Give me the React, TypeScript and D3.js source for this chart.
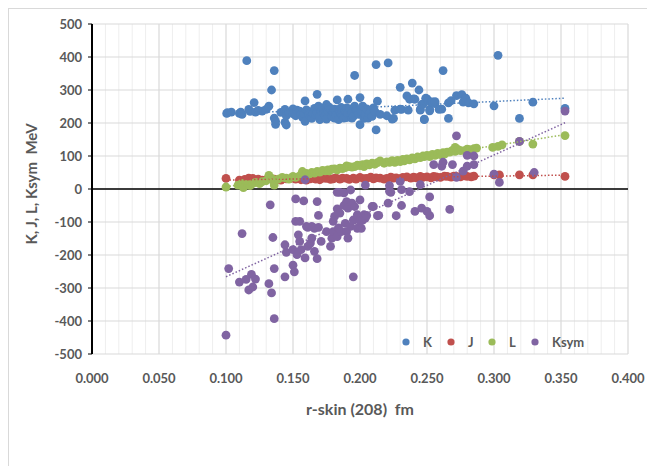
import React from "react";
import * as d3 from "d3";

type Pt = [number, number];

const kData: Pt[] = [
  [0.1005, 229], [0.101, 231], [0.104, 233], [0.110, 229], [0.111, 233], [0.112, 226], [0.1155, 389],
  [0.117, 241], [0.118, 235], [0.121, 262], [0.122, 233], [0.124, 238], [0.127, 236], [0.130, 241],
  [0.132, 251], [0.134, 300], [0.136, 359], [0.136, 215], [0.137, 205], [0.137, 196], [0.141, 232],
  [0.144, 241], [0.144, 202], [0.145, 222], [0.145, 194], [0.147, 232], [0.150, 243], [0.150, 228],
  [0.152, 222], [0.153, 239], [0.155, 236], [0.156, 226], [0.157, 218], [0.158, 230], [0.159, 267],
  [0.159, 205], [0.160, 240], [0.161, 236], [0.162, 226], [0.163, 218], [0.164, 214], [0.165, 229],
  [0.166, 244], [0.167, 225], [0.168, 287], [0.168, 232], [0.169, 251], [0.170, 210], [0.170, 221],
  [0.171, 236], [0.172, 245], [0.173, 229], [0.174, 222], [0.175, 256], [0.175, 212], [0.176, 236],
  [0.177, 248], [0.178, 241], [0.179, 226], [0.179, 219], [0.180, 232], [0.181, 215], [0.181, 242],
  [0.182, 224], [0.183, 270], [0.184, 241], [0.184, 210], [0.185, 233], [0.186, 229], [0.186, 247],
  [0.187, 222], [0.188, 215], [0.189, 238], [0.190, 246], [0.190, 216], [0.191, 272], [0.191, 228],
  [0.192, 243], [0.193, 226], [0.194, 215], [0.194, 231], [0.195, 220], [0.196, 344], [0.196, 251],
  [0.197, 240], [0.198, 236], [0.199, 226], [0.200, 195], [0.200, 277], [0.201, 235], [0.202, 251],
  [0.203, 214], [0.204, 226], [0.205, 243], [0.206, 215], [0.207, 229], [0.209, 220], [0.210, 246],
  [0.211, 236], [0.212, 179], [0.212, 377], [0.213, 266], [0.215, 226], [0.220, 222], [0.221, 382],
  [0.224, 212], [0.225, 214], [0.226, 239], [0.230, 308], [0.230, 242], [0.231, 241], [0.235, 282],
  [0.236, 239], [0.237, 272], [0.239, 321], [0.240, 273], [0.241, 272], [0.244, 300], [0.245, 239],
  [0.245, 242], [0.246, 256], [0.247, 257], [0.248, 210], [0.248, 212], [0.249, 275], [0.250, 273],
  [0.251, 267], [0.252, 241], [0.252, 237], [0.253, 263], [0.254, 264], [0.256, 259], [0.256, 265],
  [0.259, 241], [0.261, 242], [0.262, 359], [0.266, 261], [0.266, 214], [0.268, 268], [0.272, 283],
  [0.276, 286], [0.277, 263], [0.279, 275], [0.281, 261], [0.285, 258], [0.300, 252], [0.303, 405],
  [0.319, 214], [0.329, 263], [0.353, 244],
];

const jData: Pt[] = [
  [0.100, 32], [0.110, 27], [0.114, 29], [0.117, 33], [0.120, 32], [0.124, 30], [0.127, 27],
  [0.131, 31], [0.136, 30], [0.141, 27], [0.145, 31], [0.149, 33], [0.152, 30], [0.156, 28],
  [0.160, 27], [0.163, 31], [0.167, 30], [0.170, 28], [0.173, 33], [0.175, 32], [0.178, 29],
  [0.180, 31], [0.182, 34], [0.185, 30], [0.187, 33], [0.190, 32], [0.192, 29], [0.195, 33],
  [0.197, 30], [0.200, 35], [0.203, 31], [0.205, 32], [0.208, 36], [0.210, 31], [0.212, 34],
  [0.215, 33], [0.218, 30], [0.220, 32], [0.223, 36], [0.225, 33], [0.227, 34], [0.230, 31],
  [0.232, 35], [0.235, 37], [0.238, 33], [0.240, 36], [0.242, 34], [0.245, 38], [0.247, 35],
  [0.250, 37], [0.253, 34], [0.255, 38], [0.257, 37], [0.260, 35], [0.263, 39], [0.265, 38],
  [0.268, 36], [0.270, 39], [0.272, 38], [0.275, 37], [0.278, 40], [0.280, 38], [0.283, 37],
  [0.285, 39], [0.300, 43], [0.304, 43], [0.319, 43], [0.329, 43], [0.353, 38],
];

const lData: Pt[] = [
  [0.100, 6], [0.109, 12], [0.112, 17], [0.113, 4], [0.116, 14], [0.118, 10], [0.120, 17], [0.122, 20],
  [0.125, 16], [0.127, 22], [0.130, 25], [0.132, 41], [0.134, 32], [0.135, 27], [0.136, 12],
  [0.139, 30], [0.142, 35], [0.145, 33], [0.147, 30], [0.150, 38], [0.152, 35], [0.155, 40],
  [0.157, 53], [0.159, 43], [0.160, 47], [0.162, 45], [0.164, 50], [0.166, 48], [0.168, 53],
  [0.170, 51], [0.172, 56], [0.174, 55], [0.176, 58], [0.177, 55], [0.179, 60], [0.181, 61],
  [0.183, 58], [0.185, 63], [0.187, 62], [0.189, 65], [0.190, 70], [0.192, 68], [0.194, 66],
  [0.196, 68], [0.198, 72], [0.200, 71], [0.202, 74], [0.203, 68], [0.205, 76], [0.207, 73],
  [0.209, 78], [0.211, 75], [0.213, 80], [0.215, 85], [0.218, 78], [0.220, 82], [0.222, 81],
  [0.224, 86], [0.226, 81], [0.228, 87], [0.230, 83], [0.232, 90], [0.233, 85], [0.235, 91],
  [0.237, 88], [0.239, 94], [0.241, 91], [0.243, 97], [0.245, 95], [0.247, 100], [0.248, 98],
  [0.250, 102], [0.252, 98], [0.254, 105], [0.256, 102], [0.258, 108], [0.260, 104], [0.262, 110],
  [0.263, 106], [0.265, 112], [0.267, 112], [0.269, 117], [0.271, 126], [0.271, 114], [0.273, 120],
  [0.275, 116], [0.278, 116], [0.280, 121], [0.282, 119], [0.285, 122], [0.287, 124], [0.299, 126],
  [0.303, 129], [0.306, 134], [0.319, 144], [0.329, 136], [0.353, 162],
];

const ksymData: Pt[] = [
  [0.100, -443], [0.102, -241], [0.110, -282], [0.112, -135], [0.115, -274], [0.117, -306],
  [0.119, -259], [0.120, -297], [0.122, -273], [0.132, -287], [0.133, -48], [0.134, -315],
  [0.135, -147], [0.136, -241], [0.136, -393], [0.144, -169], [0.144, -266], [0.145, -192],
  [0.150, -184], [0.150, -231], [0.151, -251], [0.152, -30], [0.152, -98], [0.153, -199],
  [0.154, -139], [0.155, -98], [0.155, -159], [0.156, -184], [0.158, -36], [0.159, -209],
  [0.159, 28], [0.160, -113], [0.161, -174], [0.161, -116], [0.163, -164], [0.164, -149],
  [0.164, -113], [0.166, -189], [0.166, -119], [0.168, -38], [0.168, -211], [0.169, -116],
  [0.169, -80], [0.171, -159], [0.175, -129], [0.178, -174], [0.179, -149], [0.180, -98],
  [0.180, -129], [0.181, -83], [0.183, -60], [0.183, -10], [0.183, -144], [0.184, -118],
  [0.185, -73], [0.185, -10], [0.186, -129], [0.188, -50], [0.188, -12], [0.189, -104],
  [0.190, -38], [0.190, -129], [0.191, -149], [0.191, -58], [0.193, -3], [0.193, -113],
  [0.194, -43], [0.195, -94], [0.195, -266], [0.196, -53], [0.198, -119], [0.198, -78],
  [0.200, -33], [0.200, -98], [0.201, -119], [0.202, -94], [0.203, -78], [0.204, 12],
  [0.204, -88], [0.205, -80], [0.209, -53], [0.210, -53], [0.213, -81], [0.214, -80],
  [0.221, -43], [0.222, 10], [0.222, -7], [0.223, -10], [0.227, -81], [0.230, 23], [0.231, -2],
  [0.231, -50], [0.237, -8], [0.241, -68], [0.245, 13], [0.246, -58], [0.250, -68],
  [0.252, -24], [0.252, -81], [0.255, 74], [0.261, 69], [0.262, 81], [0.267, -62], [0.269, 74],
  [0.272, 161], [0.272, 35], [0.277, 54], [0.280, 102], [0.280, 69], [0.285, 100], [0.285, 74],
  [0.300, 45], [0.304, 20], [0.319, 144], [0.330, 50], [0.353, 236],
];

const xTicks = [0, 0.05, 0.1, 0.15, 0.2, 0.25, 0.3, 0.35, 0.4];
const yTicks = [-500, -400, -300, -200, -100, 0, 100, 200, 300, 400, 500];
const xMinor = d3.range(0, 0.4001, 0.01);

const seriesNames = ["K", "J", "L", "Ksym"];
const seriesColors = ["#4F81BD", "#C0504D", "#9BBB59", "#8064A2"];
const seriesData = [kData, jData, lData, ksymData];

const X0 = 92, X1 = 628, Y0 = 24, Y1 = 354;

function fit(data: Pt[]) {
  const mx = d3.mean(data, (d) => d[0])!;
  const my = d3.mean(data, (d) => d[1])!;
  let sxy = 0, sxx = 0;
  for (const [x, y] of data) {
    sxy += (x - mx) * (y - my);
    sxx += (x - mx) * (x - mx);
  }
  const b = sxy / sxx;
  const a = my - b * mx;
  const [lo, hi] = d3.extent(data, (d) => d[0]) as [number, number];
  return { a, b, lo, hi };
}

export default function App() {
  const x = d3.scaleLinear().domain([0, 0.4]).range([X0, X1]);
  const y = d3.scaleLinear().domain([-500, 500]).range([Y1, Y0]);
  const font = "Lato, 'Open Sans', sans-serif";
  const txt = "#595959";
  const legendX = [406, 451, 492, 535];

  return (
    <svg width={647} height={466} style={{ position: "absolute", left: 0, top: 0, background: "#fff" }}>
      <rect x={8.5} y={8.5} width={700} height={500} fill="#fff" stroke="#d9d9d9" />
      {xMinor.map((v, i) => (
        <line key={"mx" + i} x1={x(v)} x2={x(v)} y1={Y0} y2={Y1} stroke="#eeeeee" strokeWidth={1} />
      ))}
      {xTicks.map((v, i) => (
        <line key={"gx" + i} x1={x(v)} x2={x(v)} y1={Y0} y2={Y1} stroke="#d9d9d9" strokeWidth={1} />
      ))}
      {yTicks.map((v, i) => (
        <line key={"gy" + i} x1={X0} x2={X1} y1={y(v)} y2={y(v)} stroke="#d9d9d9" strokeWidth={1} />
      ))}
      <line x1={X0} x2={X1} y1={y(0)} y2={y(0)} stroke="#000" strokeWidth={1.5} />
      <line x1={X0} x2={X0} y1={Y0} y2={Y1} stroke="#000" strokeWidth={2} />
      {yTicks.map((v, i) => (
        <g key={"ty" + i}>
          <line x1={X0 - 4} x2={X0} y1={y(v)} y2={y(v)} stroke="#000" strokeWidth={1} />
          <text x={82} y={y(v)} dy="0.35em" textAnchor="end" fontFamily={font} fontWeight={700} fontSize={13} fill={txt}>
            {v}
          </text>
        </g>
      ))}
      {xTicks.map((v, i) => (
        <text key={"tx" + i} x={x(v)} y={383} textAnchor="middle" fontFamily={font} fontWeight={700} fontSize={13} fill={txt}>
          {d3.format(".3f")(v)}
        </text>
      ))}
      <text x={360} y={415} textAnchor="middle" fontFamily={font} fontWeight={700} fontSize={16} fill={txt} xmlSpace="preserve" style={{ whiteSpace: "pre" }}>
        {"r-skin (208)  fm"}
      </text>
      <text transform={`translate(37,184) rotate(-90)`} textAnchor="middle" fontFamily={font} fontWeight={700} fontSize={15} fill={txt} xmlSpace="preserve" style={{ whiteSpace: "pre" }}>
        {"K, J, L, Ksym  MeV"}
      </text>
      {seriesData.map((data, si) => (
        <g key={"s" + si}>
          {data.map((d, i) => (
            <circle key={i} cx={x(d[0])} cy={y(d[1])} r={4.4} fill={seriesColors[si]} />
          ))}
        </g>
      ))}
      {seriesData.map((data, si) => {
        const f = fit(data);
        return (
          <line
            key={"t" + si}
            x1={x(f.lo)}
            x2={x(f.hi)}
            y1={y(f.a + f.b * f.lo)}
            y2={y(f.a + f.b * f.hi)}
            stroke={seriesColors[si]}
            strokeWidth={1.5}
            strokeDasharray="1.5 2"
          />
        );
      })}
      {seriesNames.map((n, i) => (
        <g key={"l" + i}>
          <circle cx={legendX[i]} cy={342} r={3.6} fill={seriesColors[i]} />
          <text x={legendX[i] + 17} y={342} dy="0.35em" fontFamily={font} fontWeight={700} fontSize={13} fill={txt}>
            {n}
          </text>
        </g>
      ))}
    </svg>
  );
}
